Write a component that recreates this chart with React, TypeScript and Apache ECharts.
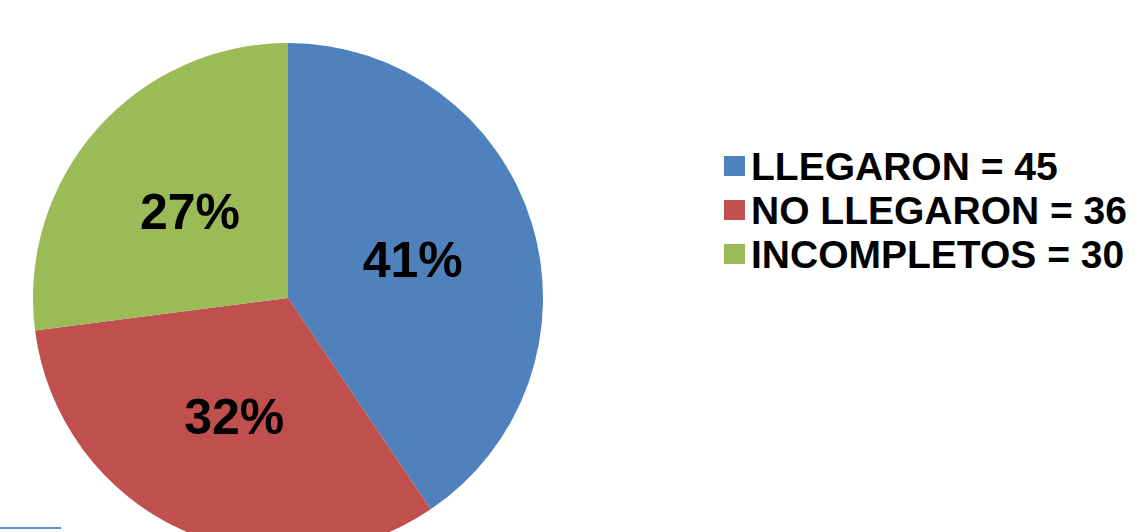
import React, { useEffect, useRef } from "react";
import * as echarts from "echarts";

const categories = ["LLEGARON", "NO LLEGARON", "INCOMPLETOS"];
const values = [45, 36, 30];
const percentLabels = ["41%", "32%", "27%"];
const colors = ["#4F81BD", "#C0504D", "#9BBB59"];

export default function App() {
  const ref = useRef<HTMLDivElement>(null);
  useEffect(() => {
    document.body.style.margin = "0";
    const chart = echarts.init(ref.current!, null, { renderer: "svg" });
    const font = "'Liberation Sans', Arial, sans-serif";
    chart.setOption({
      animation: false,
      backgroundColor: "#ffffff",
      color: colors,
      legend: {
        orient: "vertical",
        left: 719,
        top: 140,
        itemWidth: 21,
        itemHeight: 20,
        itemGap: 2,
        icon: "rect",
        selectedMode: false,
        formatter: (name: string) => {
          const i = categories.indexOf(name);
          return `${name} = ${values[i]}`;
        },
        textStyle: {
          fontFamily: font,
          fontWeight: "bold",
          fontSize: 39,
          lineHeight: 42,
          color: "#000",
          padding: [0, 0, 0, 1],
        },
      },
      graphic: [
        {
          type: "line",
          shape: { x1: 0, y1: 528, x2: 61, y2: 528 },
          style: { stroke: "#5B8FD6", lineWidth: 2 },
        },
      ],
      series: [
        {
          type: "pie",
          center: [288, 298],
          radius: [0, 255],
          startAngle: 90,
          clockwise: true,
          label: {
            show: true,
            position: "inside",
            formatter: (p: any) => percentLabels[p.dataIndex],
            fontFamily: font,
            fontWeight: "bold",
            fontSize: 50,
            color: "#000",
          },
          labelLine: { show: false },
          emphasis: { disabled: true },
          itemStyle: { borderWidth: 0 },
          data: categories.map((c, i) => ({ name: c, value: values[i] })),
        },
      ],
    });
    return () => chart.dispose();
  }, []);
  return <div ref={ref} style={{ width: 1140, height: 532 }} />;
}
